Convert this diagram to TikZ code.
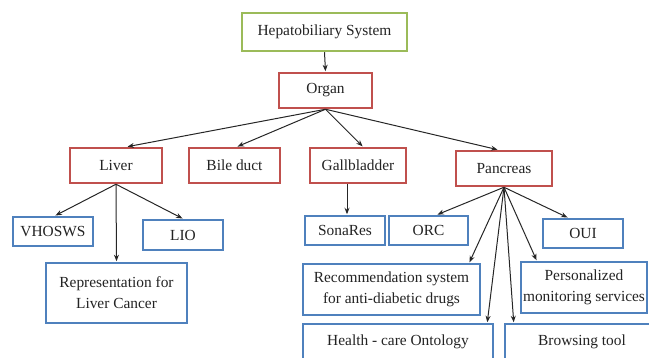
\documentclass[tikz,border=0pt]{standalone}
\usepackage{fontspec}
\setmainfont{Liberation Serif}
\usetikzlibrary{arrows.meta}
\definecolor{bgreen}{RGB}{155,187,89}
\definecolor{bred}{RGB}{192,80,77}
\definecolor{bblue}{RGB}{79,129,189}
\definecolor{txt}{RGB}{35,35,35}
\begin{document}
\begin{tikzpicture}[x=1pt,y=-1pt,
  box/.style={draw, line width=2.5pt, fill=white, inner sep=0pt, align=center,
    text=txt, font=\fontsize{15.4}{21}\selectfont, rectangle},
  gbox/.style={box, draw=bgreen},
  rbox/.style={box, draw=bred},
  bbox/.style={box, draw=bblue},
  arr/.style={-{Stealth[length=6.5pt,width=5pt]}, line width=1pt, draw=black!85, shorten >=0.5pt}
]
\useasboundingbox (0,0) rectangle (649,358);
\node[gbox, minimum width=165, minimum height=38] (hep) at (324.5,32) {Hepatobiliary System};
\node[rbox, minimum width=93, minimum height=35] (organ) at (325.5,90.5) {Organ};
\node[rbox, minimum width=92, minimum height=35] (liver) at (116,165.5) {Liver};
\node[rbox, minimum width=91, minimum height=35] (bile) at (234.5,165.5) {Bile duct};
\node[rbox, minimum width=96, minimum height=35] (gall) at (358,165.5) {Gallbladder};
\node[rbox, minimum width=96, minimum height=35] (panc) at (504,168.5) {Pancreas};
\node[bbox, minimum width=80, minimum height=29] (vhosws) at (53,231.5) {VHOSWS};
\node[bbox, minimum width=80, minimum height=30] (lio) at (183,235) {LIO};
\node[bbox, minimum width=141, minimum height=60] (repr) at (116.5,293) {Representation for\\Liver Cancer};
\node[bbox, minimum width=80, minimum height=29] (sona) at (345,230.5) {SonaRes};
\node[bbox, minimum width=79, minimum height=29] (orc) at (428.5,230.5) {ORC};
\node[bbox, minimum width=80, minimum height=29] (oui) at (583,233.5) {OUI};
\node[bbox, minimum width=177, minimum height=51] (rec) at (391.5,289.5) {Recommendation system\\for anti-diabetic drugs};
\node[bbox, minimum width=126, minimum height=51] (pers) at (584,287.5) {Personalized\\monitoring services};
\node[bbox, minimum width=190, minimum height=36] (health) at (398,342) {Health - care Ontology};
\node[bbox, minimum width=154, minimum height=36] (brows) at (582,342) {Browsing tool};

\draw[arr] (hep.south) -- (organ.north);
\draw[arr] (organ.south) -- ([xshift=11]liver.north);
\draw[arr] (organ.south) -- ([xshift=2.5]bile.north);
\draw[arr] (organ.south) -- ([xshift=5]gall.north);
\draw[arr] (organ.south) -- ([xshift=-6]panc.north);
\draw[arr] (liver.south) -- ([xshift=2]vhosws.north);
\draw[arr] (liver.south) -- (lio.north);
\draw[arr] (liver.south) -- (repr.north);
\draw[arr] ([xshift=-11]gall.south) -- ([xshift=2]sona.north);
\draw[arr] (panc.south) -- ([xshift=8.5]orc.north);
\draw[arr] (panc.south) -- ([xshift=-15]oui.north);
\draw[arr] (panc.south) -- ([xshift=-12]rec.north east);
\draw[arr] (panc.south) -- ([xshift=-7]health.north east);
\draw[arr] (panc.south) -- ([xshift=10]brows.north west);
\draw[arr] (panc.south) -- ([xshift=17]pers.north west);
\end{tikzpicture}
\end{document}
